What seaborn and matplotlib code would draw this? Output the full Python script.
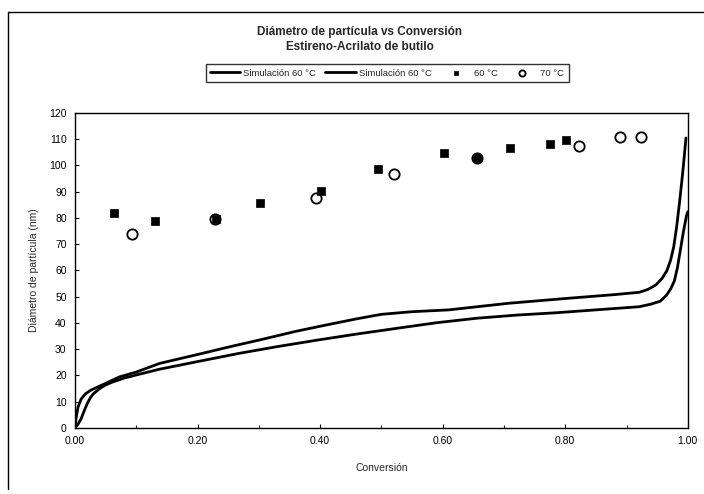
import matplotlib
matplotlib.use("Agg")
import matplotlib.pyplot as plt
from matplotlib.lines import Line2D
from matplotlib.ticker import MultipleLocator, FormatStrFormatter
import seaborn as sns
import pandas as pd

# Simulated particle diameter vs conversion (two simulation runs)
sim_a_x = [0.0, 0.002, 0.005, 0.010, 0.017, 0.025, 0.034, 0.05, 0.073, 0.10,
           0.138, 0.20, 0.25, 0.306, 0.36, 0.409, 0.46, 0.50, 0.55, 0.61,
           0.707, 0.804, 0.88, 0.921, 0.935, 0.948, 0.958, 0.966, 0.972,
           0.977, 0.982, 0.987, 0.992, 0.997]
sim_a_y = [0.0, 4.0, 8.0, 11.0, 13.0, 14.3, 15.3, 17.0, 19.5, 21.3,
           24.6, 28.0, 30.8, 33.8, 36.8, 39.2, 41.6, 43.3, 44.3, 45.0,
           47.5, 49.4, 50.8, 51.7, 52.8, 54.5, 57.0, 60.0, 64.0,
           69.0, 77.0, 87.0, 98.0, 110.5]

sim_b_x = [0.0, 0.005, 0.010, 0.015, 0.020, 0.025, 0.030, 0.04, 0.05, 0.06,
           0.08, 0.10, 0.138, 0.20, 0.267, 0.33, 0.396, 0.46, 0.526, 0.59,
           0.655, 0.72, 0.785, 0.85, 0.921, 0.94, 0.955, 0.965, 0.972,
           0.978, 0.983, 0.988, 0.993, 0.998, 1.0]
sim_b_y = [0.0, 1.5, 3.5, 6.5, 9.3, 11.5, 13.0, 15.0, 16.4, 17.4,
           19.0, 20.2, 22.4, 25.3, 28.4, 31.0, 33.5, 35.8, 38.0, 40.1,
           41.8, 43.0, 43.9, 45.0, 46.2, 47.2, 48.3, 50.5, 53.0,
           56.0, 61.0, 68.0, 75.0, 81.0, 82.4]

# Experimental measurements
exp60_x = [0.064, 0.130, 0.230, 0.302, 0.401, 0.495, 0.602, 0.656, 0.710, 0.775, 0.802]
exp60_y = [81.8, 79.0, 79.5, 85.8, 90.1, 98.6, 104.9, 102.7, 106.8, 108.3, 109.7]

exp70_x = [0.093, 0.228, 0.393, 0.520, 0.656, 0.822, 0.889, 0.924]
exp70_y = [73.9, 79.5, 87.6, 96.8, 102.7, 107.4, 110.7, 110.7]

x_ticks = [0.0, 0.2, 0.4, 0.6, 0.8, 1.0]
y_ticks = list(range(0, 121, 10))

sns.set_theme(style="white")
plt.rcParams["font.family"] = ["Liberation Sans", "DejaVu Sans"]

fig = plt.figure(figsize=(7.04, 4.94), dpi=100)
ax = fig.add_axes([0.1065, 0.1336, 0.977 - 0.1065, 0.7713 - 0.1336])

df_a = pd.DataFrame({"x": sim_a_x, "y": sim_a_y})
df_b = pd.DataFrame({"x": sim_b_x, "y": sim_b_y})
df60 = pd.DataFrame({"x": exp60_x, "y": exp60_y})
df70 = pd.DataFrame({"x": exp70_x, "y": exp70_y})

sns.lineplot(data=df_a, x="x", y="y", ax=ax, color="black", lw=2.0,
             sort=False, estimator=None, label="Simulación 60 °C", zorder=3)
sns.lineplot(data=df_b, x="x", y="y", ax=ax, color="black", lw=2.0,
             sort=False, estimator=None, label="Simulación 60 °C", zorder=3)
sns.scatterplot(data=df70, x="x", y="y", ax=ax, marker="o", s=55,
                facecolor="white", edgecolor="black", linewidth=1.3,
                label="70 °C", zorder=4)
sns.scatterplot(data=df60, x="x", y="y", ax=ax, marker="s", s=34,
                color="black", edgecolor="black", linewidth=0.5,
                label="60 °C", zorder=5)

ax.set_xlim(0, 1.0)
ax.set_ylim(0, 120)
ax.set_xticks(x_ticks)
ax.set_yticks(y_ticks)
ax.xaxis.set_major_formatter(FormatStrFormatter("%.2f"))
ax.xaxis.set_minor_locator(MultipleLocator(0.1))
ax.tick_params(axis="both", which="major", labelsize=7.5, colors="black",
               direction="in", length=3, width=0.8, pad=6)
ax.tick_params(axis="x", which="minor", direction="in", length=2, width=0.8,
               bottom=True)
ax.tick_params(axis="y", left=True)
ax.tick_params(axis="x", bottom=True)

for s in ax.spines.values():
    s.set_color("black")
    s.set_linewidth(1.0)

ax.set_xlabel("Conversión", fontsize=7.5, labelpad=12)
ax.set_ylabel("Diámetro de partícula (nm)", fontsize=7.5, labelpad=7)

fig.text(0.511, 0.935, "Diámetro de partícula vs Conversión",
         ha="center", va="center", fontsize=8.5, fontweight="bold")
fig.text(0.511, 0.905, "Estireno-Acrilato de butilo",
         ha="center", va="center", fontsize=8.5, fontweight="bold")

handles, labels = ax.get_legend_handles_labels()
order = [0, 1, 3, 2]
leg = ax.legend([handles[i] for i in order], [labels[i] for i in order],
                loc="center", bbox_to_anchor=(0.55, 0.852),
                bbox_transform=fig.transFigure, ncol=4, fontsize=6.8,
                frameon=True, fancybox=False, edgecolor="black",
                handlelength=3.2, handletextpad=0.3, columnspacing=1.0,
                borderpad=0.45, markerscale=0.6)
leg.get_frame().set_linewidth(1.0)

# chart area border
fig.add_artist(Line2D([8 / 704, 8 / 704], [1 - 12 / 494, 0.01],
                      transform=fig.transFigure, color="black", lw=1.0))
fig.add_artist(Line2D([8 / 704, 1.0], [1 - 12 / 494, 1 - 12 / 494],
                      transform=fig.transFigure, color="black", lw=1.0))

fig.savefig("out.png", dpi=100)
